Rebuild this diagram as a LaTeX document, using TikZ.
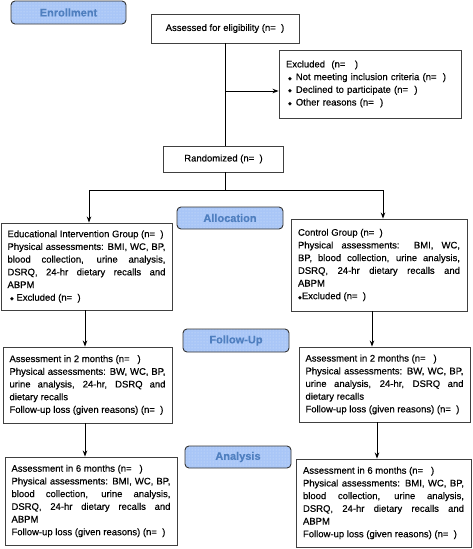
\documentclass[tikz,border=0pt]{standalone}
\usepackage{fontspec}
\setmainfont{Liberation Sans}[FakeBold=0.35]
\newfontfamily\dejavu{DejaVu Sans}
\newfontfamily\stagefont{Liberation Sans}[FakeBold=1]
\usetikzlibrary{patterns,arrows.meta}
\definecolor{stagefill}{HTML}{A9C6F7}
\definecolor{stagetext}{HTML}{4F7FBF}
\newcommand\dmd{{\dejavu\fontsize{5}{5}\selectfont ◆}}
\newcommand\bodyfs{\fontsize{9.5}{12.7}\selectfont\addfontfeatures{FakeBold=0.35}}
\begin{document}
\begin{tikzpicture}[x=1pt,y=-1pt,
  box/.style={draw=black!75, line width=0.9pt, inner ysep=0pt, inner xsep=7pt, font=\bodyfs},
  stage/.style={draw=black!80, line width=0.9pt, rounded corners=4pt,
    preaction={fill=stagefill}, pattern=dots, pattern color=white!55!stagefill,
    font=\fontsize{11}{13}\selectfont\bfseries, text=stagetext, inner sep=0pt},
  arr/.style={-{Stealth[length=6pt,width=4.5pt]}, line width=0.9pt},
  ln/.style={line width=0.9pt}]
\useasboundingbox (0,0) rectangle (473,549);

% stage labels
\node[stage, minimum width=115pt, minimum height=23pt] (enroll) at (68.5,12.5) {Enrollment};
\node[stage, minimum width=106pt, minimum height=22pt] (alloc) at (230,218) {Allocation};
\node[stage, minimum width=106pt, minimum height=23pt] (follow) at (236,340.5) {Follow-Up};
\node[stage, minimum width=106pt, minimum height=22pt] (analysis) at (238,457) {Analysis};

% top boxes
\node[box, minimum width=148pt, minimum height=29pt, inner xsep=0pt] (assess) at (225,28.5) {Assessed for eligibility (n=\ \ )};
\node[box, text width=168pt, minimum height=68pt, align=left] (excl) at (370,84)
 {Excluded\ \ (n=\ \ \ )\\
  \hspace*{2pt}\dmd\hspace{4pt}Not meeting inclusion criteria (n=\ \ )\\
  \hspace*{2pt}\dmd\hspace{4pt}Declined to participate (n=\ \ )\\
  \hspace*{2pt}\dmd\hspace{4pt}Other reasons (n=\ \ )};
\node[box, minimum width=120pt, minimum height=26pt, inner xsep=0pt] (rand) at (223.5,159) {Randomized (n=\ \ )};

% allocation
\node[box, text width=158pt, minimum height=87pt, inner xsep=6.5pt, align=justify] (L1) at (86.5,266.5)
 {Educational Intervention Group (n=\ \ )\\
  Physical assessments: BMI, WC, BP,\linebreak
  blood collection, urine analysis,\linebreak
  DSRQ, 24-hr dietary recalls and\linebreak
  ABPM\\
  \hspace*{2.5pt}\dmd\ Excluded (n=\ \ )};
\node[box, text width=162pt, minimum height=92pt, align=justify] (R1) at (379,265)
 {Control Group (n=\ \ )\\
  Physical assessments: BMI, WC,\linebreak
  BP, blood collection, urine analysis,\linebreak
  DSRQ, 24-hr dietary recalls and\linebreak
  ABPM\\
  \dmd Excluded (n=\ \ )};

% follow-up
\node[box, text width=156pt, minimum height=76pt, inner xsep=6.5pt, align=justify] (L2) at (87.5,385)
 {Assessment in 2 months (n=\ \ \ )\\
  Physical assessments: BW, WC, BP,\linebreak
  urine analysis, 24-hr, DSRQ and\linebreak
  dietary recalls\\
  Follow-up loss (given reasons) (n=\ \ )};
\node[box, text width=158pt, minimum height=75pt, inner xsep=6.5pt, align=justify] (R2) at (384.5,384.5)
 {Assessment in 2 months (n=\ \ \ )\\
  Physical assessments: BW, WC, BP,\linebreak
  urine analysis, 24-hr, DSRQ and\linebreak
  dietary recalls\\
  Follow-up loss (given reasons) (n=\ \ )};

% analysis
\node[box, text width=159pt, minimum height=88pt, inner xsep=6.5pt, align=justify] (L3) at (91,501)
 {Assessment in 6 months (n=\ \ \ )\\
  Physical assessments: BMI, WC, BP,\linebreak
  blood collection, urine analysis,\linebreak
  DSRQ, 24-hr dietary recalls and\linebreak
  ABPM\\
  Follow-up loss (given reasons) (n=\ \ )};
\node[box, text width=161pt, minimum height=88pt, align=justify] (R3) at (383.5,503)
 {Assessment in 6 months (n=\ \ \ )\\
  Physical assessments: BMI, WC, BP,\linebreak
  blood collection, urine analysis,\linebreak
  DSRQ, 24-hr dietary recalls and\linebreak
  ABPM\\
  Follow-up loss (given reasons) (n=\ \ )};

% connectors
\coordinate (ej) at (225,91);
\coordinate (split) at (225,190);
\coordinate (sl) at (89,190);
\coordinate (sr) at (383,190);
\coordinate (ax1) at (85,0);
\coordinate (ax2) at (372,0);
\coordinate (ax3) at (377,0);

\draw[ln] (assess.south) -- (assess.south |- rand.north);
\draw[arr] (ej) -- (ej -| excl.west);
\draw[ln] (split |- rand.south) -- (split);
\draw[ln] (sl) -- (sr);
\draw[arr] (sl) -- (sl |- L1.north);
\draw[arr] (sr) -- (sr |- R1.north);
\draw[arr] (L1.south -| ax1) -- (L2.north -| ax1);
\draw[arr] (R1.south -| ax2) -- (R2.north -| ax2);
\draw[arr] (L2.south -| ax1) -- (L3.north -| ax1);
\draw[arr] (R2.south -| ax3) -- (R3.north -| ax3);
\end{tikzpicture}
\end{document}
